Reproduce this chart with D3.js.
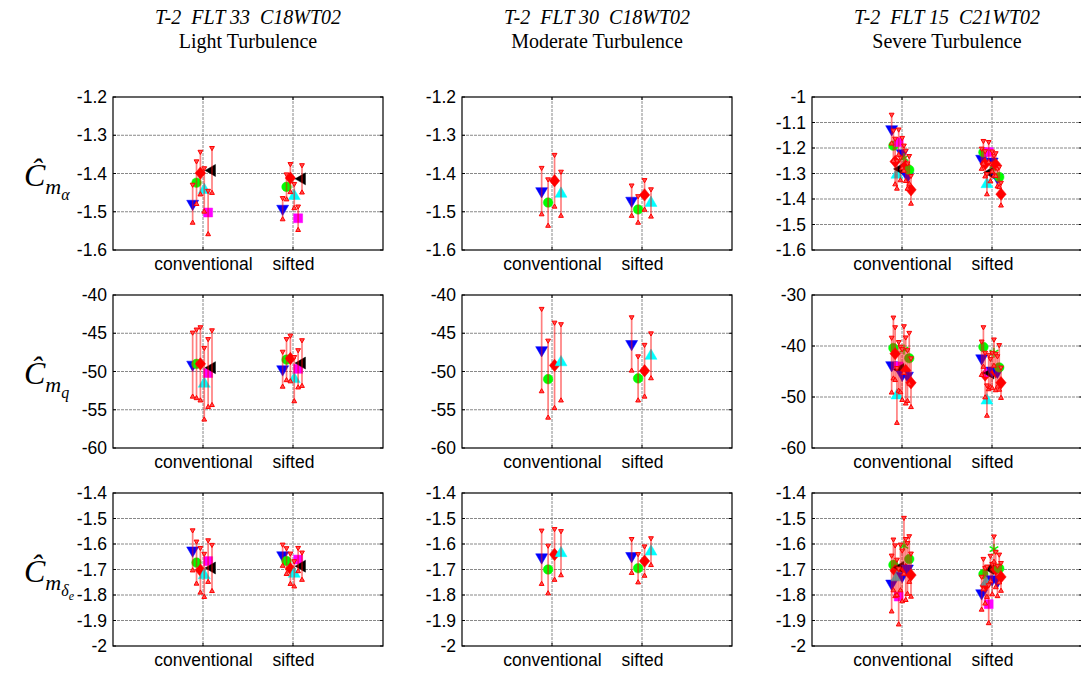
<!DOCTYPE html>
<html>
<head>
<meta charset="utf-8">
<script src="https://cdn.jsdelivr.net/npm/d3@7"></script>
<style>
  body { margin: 0; background: #fff; }
  svg { display: block; }
</style>
</head>
<body>
<svg id="fig" width="1081" height="674"></svg>
<script>
// ---- categories, titles, tick labels ----
const categories = ["conventional", "sifted"];
const flightTitles = ["T-2  FLT 33  C18WT02", "T-2  FLT 30  C18WT02", "T-2  FLT 15  C21WT02"];
const flightLevels = ["Light Turbulence", "Moderate Turbulence", "Severe Turbulence"];

const cmaTicks = [-1.6, -1.5, -1.4, -1.3, -1.2];
const cmaTicksSevere = [-1.6, -1.5, -1.4, -1.3, -1.2, -1.1, -1];
const cmqTicks = [-60, -55, -50, -45, -40];
const cmqTicksSevere = [-60, -50, -40, -30];
const cmdTicks = [-2, -1.9, -1.8, -1.7, -1.6, -1.5, -1.4];

// ---- marker styles of each maneuver ----
const lightShapes = ["tridown", "circle", "diamond", "triup", "square", "trileft"];
const lightColors = ["#0000ff", "#00ff00", "#ff0000", "#00ffff", "#ff00ff", "#000000"];
const modShapes = ["tridown", "circle", "diamond", "triup"];
const modColors = ["#0000ff", "#00ff00", "#ff0000", "#00ffff"];
const sevShapes = ["tridown", "circle", "diamond", "triup", "square", "trileft",
                   "tridown", "star", "diamond", "tridown", "circle", "diamond"];
const sevColors = ["#0000ff", "#00ff00", "#ff0000", "#00ffff", "#ff00ff", "#000000",
                   "#0000ff", "#00ff00", "#ff0000", "#0000ff", "#00ff00", "#ff0000"];

// ---- estimates: [conventional, sifted], with 1-sigma half widths ----
const lightCma    = [[-1.479, -1.424, -1.399, -1.443, -1.502, -1.392],
                     [-1.492, -1.435, -1.412, -1.459, -1.517, -1.414]];
const lightCmaErr = [[0.050, 0.056, 0.056, 0.057, 0.057, 0.059],
                     [0.028, 0.033, 0.037, 0.032, 0.031, 0.036]];
const lightCmq    = [[-49.1, -49.0, -49.0, -51.6, -50.2, -49.5],
                     [-49.7, -48.45, -48.3, -51.0, -49.65, -48.9]];
const lightCmqErr = [[4.2, 4.5, 4.8, 4.7, 4.45, 4.9],
                     [2.3, 2.7, 3.0, 2.9, 2.45, 3.0]];
const lightCmd    = [[-1.625, -1.673, -1.703, -1.723, -1.667, -1.694],
                     [-1.644, -1.667, -1.697, -1.717, -1.661, -1.687]];
const lightCmdErr = [[0.079, 0.083, 0.088, 0.085, 0.082, 0.091],
                     [0.042, 0.051, 0.060, 0.050, 0.046, 0.054]];

const modCma    = [[-1.446, -1.476, -1.419, -1.453],
                   [-1.471, -1.494, -1.456, -1.477]];
const modCmaErr = [[0.061, 0.061, 0.068, 0.058],
                   [0.040, 0.035, 0.039, 0.036]];
const modCmq    = [[-47.2, -51.0, -49.2, -48.8],
                   [-46.4, -50.9, -49.9, -47.95]];
const modCmqErr = [[5.4, 5.05, 5.6, 5.0],
                   [3.5, 2.9, 3.4, 2.95]];
const modCmd    = [[-1.652, -1.700, -1.641, -1.636],
                   [-1.647, -1.695, -1.667, -1.630]];
const modCmdErr = [[0.105, 0.094, 0.100, 0.087],
                   [0.067, 0.056, 0.058, 0.053]];

const sevCma    = [[-1.126, -1.191, -1.253, -1.305, -1.177, -1.282, -1.220, -1.240, -1.270, -1.310, -1.286, -1.364],
                   [-1.242, -1.217, -1.262, -1.342, -1.216, -1.296, -1.253, -1.270, -1.265, -1.316, -1.314, -1.381]];
const sevCmaErr = [[0.057, 0.060, 0.090, 0.055, 0.050, 0.045, 0.060, 0.050, 0.060, 0.050, 0.055, 0.055],
                   [0.040, 0.045, 0.050, 0.040, 0.040, 0.035, 0.040, 0.040, 0.045, 0.035, 0.040, 0.045]];
const sevCmq    = [[-43.75, -40.4, -41.5, -49.7, -44.0, -44.6, -45.6, -40.7, -44.8, -45.8, -42.4, -47.2],
                   [-42.4, -40.2, -45.7, -50.7, -45.1, -45.3, -44.8, -41.3, -45.1, -45.0, -44.2, -47.2]];
const sevCmqErr = [[5.4, 6.0, 5.2, 5.4, 4.8, 4.5, 5.0, 4.6, 6.5, 5.0, 5.0, 4.8],
                   [3.3, 3.9, 4.4, 3.0, 3.4, 2.8, 3.5, 2.6, 3.6, 3.0, 4.4, 3.0]];
const sevCmd    = [[-1.755, -1.682, -1.705, -1.731, -1.806, -1.692, -1.725, -1.607, -1.700, -1.696, -1.659, -1.722],
                   [-1.793, -1.718, -1.764, -1.748, -1.836, -1.696, -1.738, -1.620, -1.700, -1.745, -1.696, -1.729]];
const sevCmdErr = [[0.110, 0.100, 0.100, 0.070, 0.110, 0.090, 0.100, 0.110, 0.120, 0.100, 0.090, 0.085],
                   [0.065, 0.060, 0.070, 0.060, 0.075, 0.050, 0.060, 0.050, 0.070, 0.060, 0.055, 0.055]];

// ---- panel table ----
const panels = [
  { row: 0, col: 0, est: lightCma, err: lightCmaErr, ticks: cmaTicks,       shapes: lightShapes, colors: lightColors },
  { row: 1, col: 0, est: lightCmq, err: lightCmqErr, ticks: cmqTicks,       shapes: lightShapes, colors: lightColors },
  { row: 2, col: 0, est: lightCmd, err: lightCmdErr, ticks: cmdTicks,       shapes: lightShapes, colors: lightColors },
  { row: 0, col: 1, est: modCma,   err: modCmaErr,   ticks: cmaTicks,       shapes: modShapes,   colors: modColors },
  { row: 1, col: 1, est: modCmq,   err: modCmqErr,   ticks: cmqTicks,       shapes: modShapes,   colors: modColors },
  { row: 2, col: 1, est: modCmd,   err: modCmdErr,   ticks: cmdTicks,       shapes: modShapes,   colors: modColors },
  { row: 0, col: 2, est: sevCma,   err: sevCmaErr,   ticks: cmaTicksSevere, shapes: sevShapes,   colors: sevColors },
  { row: 1, col: 2, est: sevCmq,   err: sevCmqErr,   ticks: cmqTicksSevere, shapes: sevShapes,   colors: sevColors },
  { row: 2, col: 2, est: sevCmd,   err: sevCmdErr,   ticks: cmdTicks,       shapes: sevShapes,   colors: sevColors }
];

// ---- layout ----
const colLeft = [113, 462, 812];
const rowTop = [97, 295, 493];
const pw = 270, ph = 153;
const tickFont = "Arial, 'Liberation Sans', sans-serif";
const serif = "'Times New Roman', 'Liberation Serif', serif";
const fmt = d => String(+d.toFixed(3));

const svg = d3.select("#fig");

function markerPath(shape) {
  switch (shape) {
    case "circle":  return d3.symbol(d3.symbolCircle, 72)();
    case "square":  return d3.symbol(d3.symbolSquare, 80)();
    case "diamond": return "M0,-6.2L5.2,0L0,6.2L-5.2,0Z";
    case "star":    return d3.symbol(d3.symbolAsterisk, 70)();
    default:        return d3.symbol(d3.symbolTriangle, 62)();
  }
}
const rotation = { tridown: 180, trileft: -90, triup: 0 };

panels.forEach(p => {
  const g = svg.append("g")
    .attr("transform", `translate(${colLeft[p.col]},${rowTop[p.row]})`);
  const x = d3.scaleLinear().domain([0, 3]).range([0, pw]);
  const y = d3.scaleLinear().domain([p.ticks[0], p.ticks[p.ticks.length - 1]]).range([ph, 0]);
  const n = p.shapes.length;
  const jitter = d3.scalePoint().domain(d3.range(n)).range([-0.115, 0.10]);

  // grid
  g.append("g").selectAll("line").data(p.ticks.slice(1, -1)).join("line")
    .attr("x1", 0).attr("x2", pw).attr("y1", d => y(d)).attr("y2", d => y(d))
    .attr("stroke", "#888").attr("stroke-width", 1).attr("stroke-dasharray", "3,1");
  g.append("g").selectAll("line").data([1, 2]).join("line")
    .attr("x1", d => x(d)).attr("x2", d => x(d)).attr("y1", 0).attr("y2", ph)
    .attr("stroke", "#888").attr("stroke-width", 1).attr("stroke-dasharray", "3,1");

  // inward ticks on all four sides
  const tk = 3;
  const ticksG = g.append("g").attr("stroke", "#000").attr("stroke-width", 1);
  p.ticks.forEach(t => {
    ticksG.append("line").attr("x1", 0).attr("x2", tk).attr("y1", y(t)).attr("y2", y(t));
    ticksG.append("line").attr("x1", pw - tk).attr("x2", pw).attr("y1", y(t)).attr("y2", y(t));
  });
  [1, 2].forEach(c => {
    ticksG.append("line").attr("x1", x(c)).attr("x2", x(c)).attr("y1", ph).attr("y2", ph - tk);
    ticksG.append("line").attr("x1", x(c)).attr("x2", x(c)).attr("y1", 0).attr("y2", tk);
  });

  // tick labels
  const ya = g.append("g").call(
    d3.axisLeft(y).tickValues(p.ticks).tickSize(0).tickPadding(6).tickFormat(fmt));
  ya.select(".domain").remove();
  ya.selectAll("text").attr("font-family", tickFont).attr("font-size", 17.5).attr("fill", "#000");

  const xa = g.append("g").attr("transform", `translate(0,${ph})`).call(
    d3.axisBottom(x).tickValues([1, 2]).tickSize(0).tickPadding(8).tickFormat(d => categories[d - 1]));
  xa.select(".domain").remove();
  xa.selectAll("text").attr("font-family", tickFont).attr("font-size", 17.5).attr("fill", "#000");

  // estimates and error bars
  const pts = [];
  p.est.forEach((vals, c) => vals.forEach((v, i) => {
    pts.push({ cx: x(c + 1 + jitter(i)), v, e: p.err[c][i], shape: p.shapes[i], color: p.colors[i] });
  }));

  g.append("g").selectAll("path").data(pts).join("path")
    .attr("d", d => markerPath(d.shape))
    .attr("transform", d => `translate(${d.cx},${y(d.v)}) rotate(${rotation[d.shape] || 0})`)
    .attr("fill", d => d.shape === "star" ? "none" : d.color)
    .attr("stroke", d => d.color)
    .attr("stroke-width", d => d.shape === "star" ? 1.4 : 0.5);

  const bars = g.append("g");
  bars.selectAll("line").data(pts).join("line")
    .attr("x1", d => d.cx).attr("x2", d => d.cx)
    .attr("y1", d => y(d.v + d.e)).attr("y2", d => y(d.v - d.e))
    .attr("stroke", "#ff0000").attr("stroke-opacity", 0.5).attr("stroke-width", 1.7);
  const cap = d3.symbol(d3.symbolTriangle, 10)();
  bars.selectAll("path.top").data(pts).join("path").attr("class", "top")
    .attr("d", cap)
    .attr("transform", d => `translate(${d.cx},${y(d.v + d.e)}) rotate(180)`)
    .attr("fill", "#ff5050").attr("stroke", "#ff0000").attr("stroke-width", 1);
  bars.selectAll("path.bot").data(pts).join("path").attr("class", "bot")
    .attr("d", cap)
    .attr("transform", d => `translate(${d.cx},${y(d.v - d.e)})`)
    .attr("fill", "#ff5050").attr("stroke", "#ff0000").attr("stroke-width", 1);

  // axes box
  g.append("rect").attr("x", 0).attr("y", 0).attr("width", pw).attr("height", ph)
    .attr("fill", "none").attr("stroke", "#000").attr("stroke-width", 1.2);
});

// ---- column titles ----
colLeft.forEach((l, i) => {
  const cx = l + pw / 2;
  svg.append("text").attr("x", cx).attr("y", 24).attr("text-anchor", "middle")
    .attr("font-family", serif).attr("font-style", "italic").attr("font-size", 20)
    .attr("xml:space", "preserve").style("white-space", "pre")
    .text(flightTitles[i]);
  svg.append("text").attr("x", cx).attr("y", 48).attr("text-anchor", "middle")
    .attr("font-family", serif).attr("font-size", 20)
    .text(flightLevels[i]);
});

// ---- row labels: estimated derivatives ----
const rowSubs = [["α"], ["q"], ["δ", "e"]];
rowTop.forEach((t, r) => {
  const base = t + ph / 2 + 12;
  const txt = svg.append("text").attr("x", 24).attr("y", base)
    .attr("font-family", serif).attr("font-style", "italic");
  txt.append("tspan").attr("font-size", 32).text("Ĉ");
  txt.append("tspan").attr("font-size", 22).attr("dy", 8).text("m");
  txt.append("tspan").attr("font-size", 16).attr("dy", 6).text(rowSubs[r][0]);
  if (rowSubs[r][1]) txt.append("tspan").attr("font-size", 12).attr("dy", 4).text(rowSubs[r][1]);
});
</script>
</body>
</html>
